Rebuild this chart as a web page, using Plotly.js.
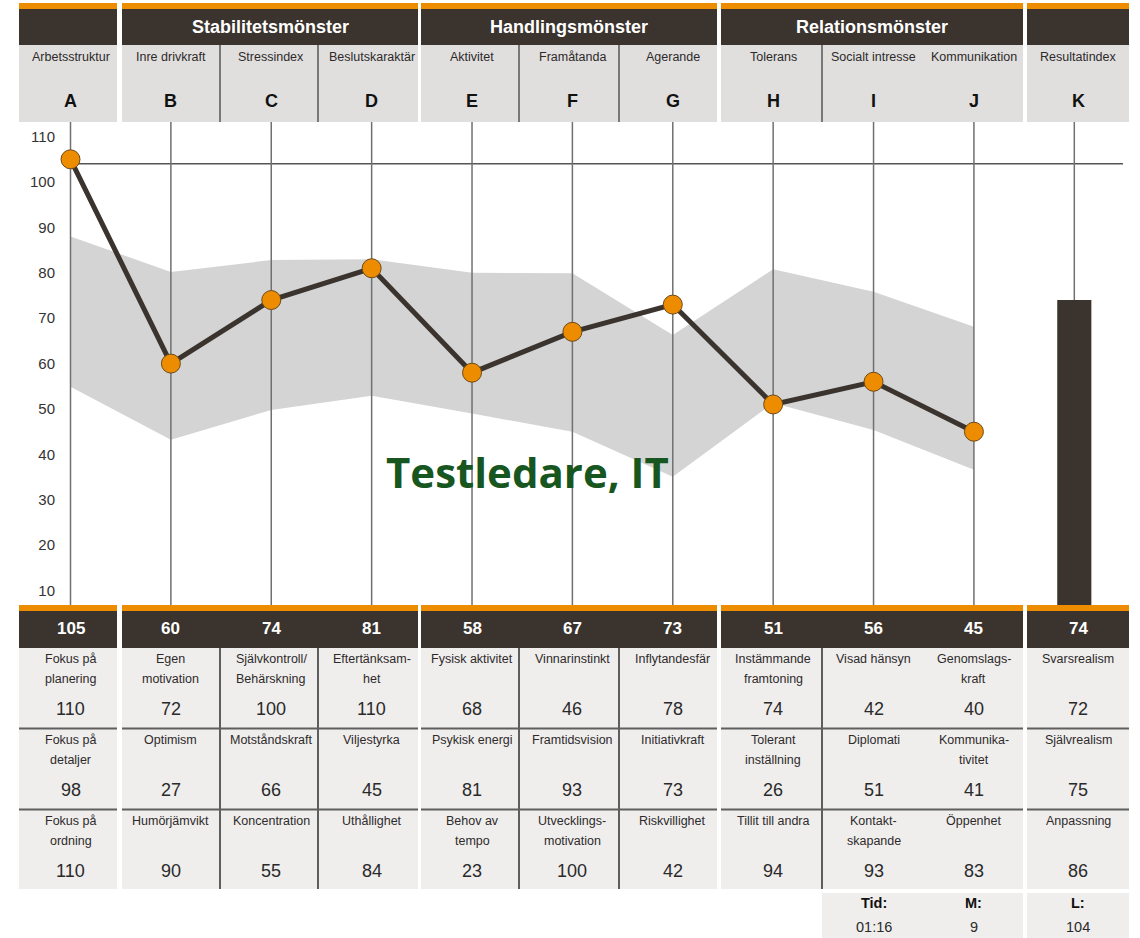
<!DOCTYPE html>
<html><head><meta charset="utf-8">
<script src="https://cdn.plot.ly/plotly-3.0.1.min.js"></script>
<style>html,body{margin:0;padding:0;background:#fff}#chart{width:1140px;height:938px}</style>
</head><body><div id="chart"></div>
<script>
// ---------------- DATA ----------------
const letters = ['A','B','C','D','E','F','G','H','I','J','K'];
const scaleNames = ['Arbetsstruktur','Inre drivkraft','Stressindex','Beslutskaraktär','Aktivitet','Framåtanda','Agerande','Tolerans','Socialt intresse','Kommunikation','Resultatindex'];
const groupNames = ['', 'Stabilitetsmönster', 'Handlingsmönster', 'Relationsmönster', ''];
const scores = [105, 60, 74, 81, 58, 67, 73, 51, 56, 45, 74];
const bandUpper = [88.0, 80.2, 82.8, 83.0, 80.0, 79.9, 66.3, 80.8, 75.8, 68.1];
const bandLower = [54.9, 43.2, 49.8, 52.9, 49.0, 45.0, 35.1, 51.3, 45.4, 36.6];
const referenceLine = 104;
const yTicks = [10, 20, 30, 40, 50, 60, 70, 80, 90, 100, 110];

const sub1Labels = ['Fokus på|planering','Egen|motivation','Självkontroll/|Behärskning','Eftertänksam-|het','Fysisk aktivitet','Vinnarinstinkt','Inflytandesfär','Instämmande|framtoning','Visad hänsyn','Genomslags-|kraft','Svarsrealism'];
const sub1Values = [110, 72, 100, 110, 68, 46, 78, 74, 42, 40, 72];
const sub2Labels = ['Fokus på|detaljer','Optimism','Motståndskraft','Viljestyrka','Psykisk energi','Framtidsvision','Initiativkraft','Tolerant|inställning','Diplomati','Kommunika-|tivitet','Självrealism'];
const sub2Values = [98, 27, 66, 45, 81, 93, 73, 26, 51, 41, 75];
const sub3Labels = ['Fokus på|ordning','Humörjämvikt','Koncentration','Uthållighet','Behov av|tempo','Utvecklings-|motivation','Riskvillighet','Tillit till andra','Kontakt-|skapande','Öppenhet','Anpassning'];
const sub3Values = [110, 90, 55, 84, 23, 100, 42, 94, 93, 83, 86];

const footerLabels = ['Tid:', 'M:', 'L:'];
const footerValues = ['01:16', '9', '104'];
const footerCols = [8, 9, 10];
const chartTitle = 'Testledare, IT';

// ---------------- LAYOUT GEOMETRY ----------------
const W = 1140, H = 938;
const X0 = 70.5, DX = 100.38;   // pixel of first column, pixels per column
const Y0 = 636, DY = 4.54;      // pixel of value 0, pixels per unit
const xRange = [(0 - X0) / DX, (W - X0) / DX];
const yRange = [(Y0 - H) / DY, Y0 / DY];
const px = p => p / W;
const py = p => 1 - p / H;
const valAtPy = p => (Y0 - p) / DY;
const colAtPx = p => (p - X0) / DX;

const groupEdges = [[19,117],[122,418],[421,717],[721,1023],[1027,1129]];
const dividersPx = [220, 318, 519, 619, 822];
const PLOT_TOP = 122, PLOT_BOT = 605;
const BAR_COL = letters.length - 1;

const ORANGE = '#ee8c00', DARK = '#3b342e', HEAD_GREY = '#e0dfde', CELL_GREY = '#efeeed';
const LINE_GREY = '#5e5e5e', GRID_GREY = '#707070';
const FONT = 'Liberation Sans, Arial, sans-serif';

const shapes = [];
function rect(x0, x1, y0, y1, color, layer) {
  shapes.push({type:'rect', xref:'paper', yref:'paper', x0:px(x0), x1:px(x1), y0:py(y1), y1:py(y0),
    fillcolor: color, line:{width:0}, layer: layer || 'below'});
}
function seg(x0, x1, y0, y1, color, w) {
  shapes.push({type:'line', xref:'paper', yref:'paper', x0:px(x0), x1:px(x1), y0:py(y0), y1:py(y1),
    line:{color: color, width: w}, layer:'below'});
}

groupEdges.forEach(([l, r]) => {
  rect(l, r, 3, 9, ORANGE);
  rect(l, r, 9, 45, DARK);
  rect(l, r, 45, PLOT_TOP, HEAD_GREY);
  rect(l, r, PLOT_BOT, 611, ORANGE, 'above');
  rect(l, r, 611, 648, DARK);
  rect(l, r, 648, 889, CELL_GREY);
  seg(l, r, 728.5, 728.5, LINE_GREY, 2);
  seg(l, r, 809.5, 809.5, LINE_GREY, 2);
});
dividersPx.forEach(x => {
  seg(x, x, 45, PLOT_TOP, LINE_GREY, 1.6);
  seg(x, x, 648, 889, LINE_GREY, 2);
});
// footer boxes
rect(822, 1023, 893, 938, CELL_GREY);
rect(1027, 1129, 893, 938, CELL_GREY);

// reference line
shapes.push({type:'line', xref:'x', yref:'y', x0:0, x1:colAtPx(1123), y0:referenceLine, y1:referenceLine,
  line:{color:'#555', width:1.5}, layer:'below'});

// ---------------- ANNOTATIONS ----------------
const annotations = [];
function txt(x, xref, yPix, text, size, color, bold, xshift) {
  annotations.push({x: x, xref: xref, y: py(yPix), yref:'paper', text: bold ? '<b>' + text + '</b>' : text,
    showarrow:false, xanchor:'center', yanchor:'middle', xshift: xshift || 0,
    font:{family: FONT, size: size, color: color}});
}
groupNames.forEach((g, k) => {
  if (g) txt(px((groupEdges[k][0] + groupEdges[k][1]) / 2), 'paper', 27, g, 18, '#ffffff', true);
});
const kShift = i => (i === BAR_COL ? 4 : 0);
letters.forEach((L, i) => {
  txt(i, 'x', 57, scaleNames[i], 12.5, '#2e2a2a', false, kShift(i));
  txt(i, 'x', 101, L, 18, '#111', true, kShift(i));
  txt(i, 'x', 628, String(scores[i]), 17, '#ffffff', true, kShift(i));
});
function subRow(labels, values, yLabel, yValue) {
  labels.forEach((lab, i) => {
    lab.split('|').forEach((part, j) => txt(i, 'x', yLabel + j * 19.5, part, 12.5, '#2e2a2a', false, kShift(i)));
    txt(i, 'x', yValue, String(values[i]), 18, '#2a2a2a', false, kShift(i));
  });
}
subRow(sub1Labels, sub1Values, 659, 709);
subRow(sub2Labels, sub2Values, 740, 790);
subRow(sub3Labels, sub3Values, 821, 871);
footerLabels.forEach((f, k) => {
  txt(footerCols[k], 'x', 903, f, 14.5, '#111', true, kShift(footerCols[k]));
  txt(footerCols[k], 'x', 927, footerValues[k], 14.5, '#2a2a2a', false, kShift(footerCols[k]));
});
annotations.push({x: px(527), y: py(471), xref:'paper', yref:'paper', text:'<b>' + chartTitle + '</b>',
  showarrow:false, xanchor:'center', yanchor:'middle',
  font:{family:'Open Sans, Noto Sans, sans-serif', size:42, color:'#17561f'}});

// ---------------- TRACES ----------------
const lineIdx = bandUpper.map((_, i) => i);
const gx = [], gy = [];
letters.forEach((_, i) => {
  gx.push(i, i, null);
  gy.push(valAtPy(PLOT_TOP), i === BAR_COL ? scores[i] : valAtPy(PLOT_BOT), null);
});

const traces = [
  {x: lineIdx, y: bandLower, type:'scatter', mode:'lines', line:{width:0, color:'#d4d4d4'}, hoverinfo:'skip'},
  {x: lineIdx, y: bandUpper, type:'scatter', mode:'lines', fill:'tonexty', fillcolor:'#d4d4d4', line:{width:0, color:'#d4d4d4'}, hoverinfo:'skip'},
  {x: gx, y: gy, type:'scatter', mode:'lines', line:{color: GRID_GREY, width:1.5}, hoverinfo:'skip'},
  {x: [BAR_COL], y: [scores[BAR_COL]], type:'bar', width:0.34, marker:{color: DARK, line:{width:0}}, hoverinfo:'skip'},
  {x: lineIdx, y: scores.slice(0, lineIdx.length), type:'scatter', mode:'lines+markers',
    line:{color: DARK, width:5}, marker:{size:19, color: ORANGE, line:{color:'#6b4a1c', width:1}}, hoverinfo:'skip'}
];

const layout = {
  width: W, height: H, margin:{l:0, r:0, t:0, b:0}, showlegend:false,
  paper_bgcolor:'#ffffff', plot_bgcolor:'#ffffff',
  xaxis:{range: xRange, visible:false, fixedrange:true},
  yaxis:{range: yRange, anchor:'free', position: 55 / W, showgrid:false, zeroline:false, showline:false,
    ticks:'', tickmode:'array', tickvals: yTicks, tickfont:{family: FONT, size:15, color:'#333333'}, fixedrange:true},
  shapes: shapes, annotations: annotations
};
Plotly.newPlot('chart', traces, layout, {displayModeBar:false, staticPlot:true});
</script>
</body></html>
